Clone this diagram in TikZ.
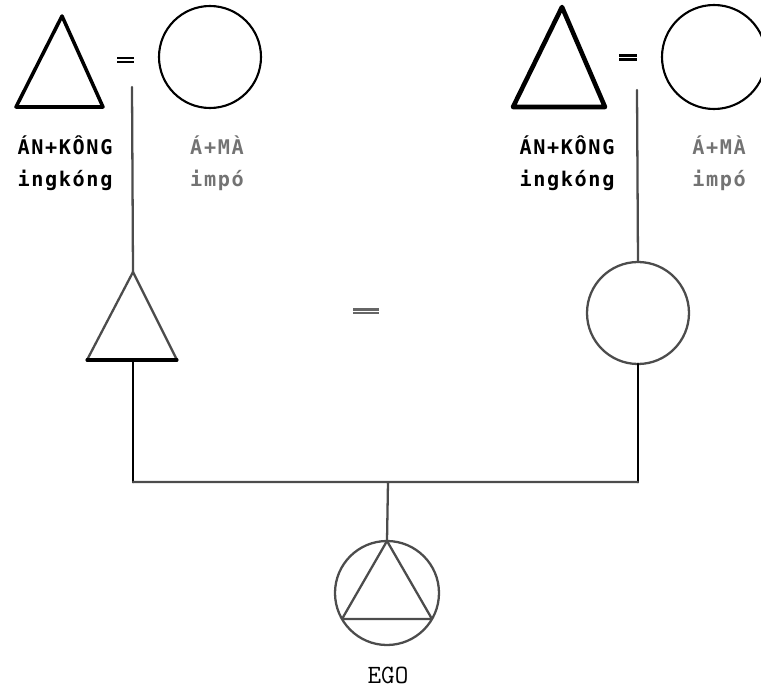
\documentclass[tikz,border=0pt]{standalone}
\usepackage{fontspec}
\newfontfamily\kinfont[LetterSpace=8]{DejaVu Sans Mono}
\begin{document}
\begin{tikzpicture}[x=0.02cm, y=-0.02cm, line join=round, line cap=round,
	male/.style={line width=2pt},
	female/.style={line width=1.2pt},
	link/.style={line width=1.3pt, black!70},
	kin/.style={font=\kinfont\bfseries\fontsize{11.5}{13}\selectfont},
	term/.style={kin, black!55}]
	\useasboundingbox (0,0) rectangle (761,690);
	% grandparents, left side
	\coordinate (GFa) at (62,16);
	\coordinate (GFb) at (16,107);
	\coordinate (GFc) at (103,107);
	\coordinate (GM)  at (210,57);
	\draw[male] (GFa) -- (GFb) -- (GFc) -- cycle;
	\draw[female] (GM) circle [radius=51];
	\draw[line width=1.5pt, line cap=butt] (117,58) -- (134,58) (117,62) -- (134,62);
	\coordinate (w1) at (132,87);
	% grandparents, right side
	\coordinate (HFa) at (562,7);
	\coordinate (HFb) at (513,107);
	\coordinate (HFc) at (605,107);
	\coordinate (HM)  at (714,57);
	\draw[male, line width=2.6pt] (HFa) -- (HFb) -- (HFc) -- cycle;
	\draw[female] (HM) circle [radius=52];
	\draw[line width=1.5pt, line cap=butt] (619,55.2) -- (637,55.2) (619,59.2) -- (637,59.2);
	\coordinate (w2) at (637,90);
	% labels
	\node[kin]  (l1) at (65,145)  {ÁN+KÔNG};
	\node[kin]  (l2) at (65,180)  {ingkóng};
	\node[term] (l3) at (217,145) {Á+MÀ};
	\node[term] (l4) at (217,180) {impó};
	\node[kin]  (r1) at (567,145) {ÁN+KÔNG};
	\node[kin]  (r2) at (567,180) {ingkóng};
	\node[term] (r3) at (719,145) {Á+MÀ};
	\node[term] (r4) at (719,180) {impó};
	% parents
	\coordinate (Fa) at (133,272);
	\coordinate (Fb) at (87,360);
	\coordinate (Fc) at (177,360);
	\coordinate (Fd) at (133,360);
	\coordinate (M)  at (638,313);
	\coordinate (Mt) at (638,262);
	\coordinate (Mb) at (638,364);
	\draw[link] (Fa) -- (Fb) (Fa) -- (Fc);
	\draw[line width=1.8pt] (Fb) -- (Fc);
	\draw[link] (M) circle [radius=51];
	\draw[line width=1.5pt, black!60, line cap=butt] (353,309.2) -- (379,309.2) (353,313) -- (379,313);
	\draw[link] (w1) -- (Fa);
	\draw[link] (w2) -- (Mt);
	% siblings bar and ego
	\coordinate (s1) at (133,482);
	\coordinate (s2) at (638,482);
	\coordinate (s3) at (388,482);
	\coordinate (E)  at (387,593);
	\coordinate (Ea) at (387,541);
	\coordinate (Eb) at (342,619);
	\coordinate (Ec) at (432,619);
	\draw[line width=1.7pt] (Fd) -- (s1) (Mb) -- (s2);
	\draw[link] (s1) -- (s2) (s3) -- (Ea);
	\draw[link] (E) circle [radius=52];
	\draw[link] (Ea) -- (Eb) -- (Ec) -- cycle;
	\node[font=\ttfamily\fontsize{15}{17}\selectfont] (ego) at (388,675) {EGO};
\end{tikzpicture}
\end{document}
